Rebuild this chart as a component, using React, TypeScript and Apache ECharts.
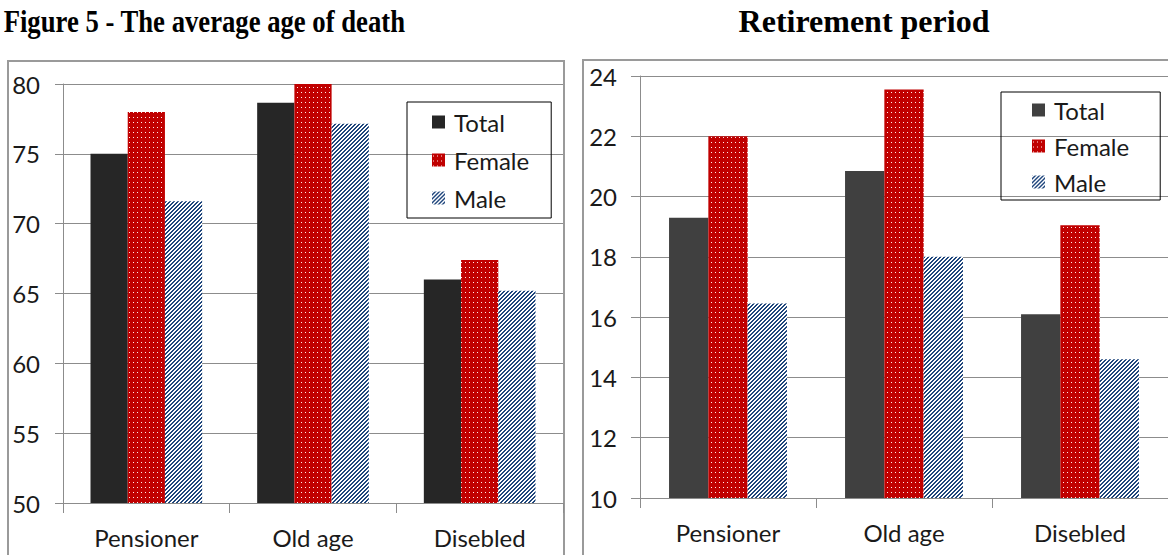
import React, { useEffect, useRef } from "react";
import * as echarts from "echarts";

const categories = ["Pensioner", "Old age", "Disebled"];
const seriesNames = ["Total", "Female", "Male"];

const deathTotal = [75.0, 78.65, 66.0];
const deathFemale = [78.0, 80.0, 67.4];
const deathMale = [71.6, 77.15, 65.2];

const retireTotal = [19.3, 20.85, 16.1];
const retireFemale = [22.0, 23.55, 19.05];
const retireMale = [16.45, 18.0, 14.6];

const leftTitle = "Figure 5 - The average age of death";
const rightTitle = "Retirement period";

const FONT = "Lato";
const GRID = "#8c8c8c";
const TITLE_FONT = "bold 32px 'Liberation Serif', 'Times New Roman', serif";

function makeFemalePattern() {
  const c = document.createElement("canvas");
  c.width = 4;
  c.height = 5;
  const g = c.getContext("2d")!;
  g.fillStyle = "#C00000";
  g.fillRect(0, 0, 4, 5);
  g.fillStyle = "rgba(255,235,235,1)";
  g.fillRect(1, 2, 1, 1);
  return { image: c.toDataURL(), repeat: "repeat", imageWidth: 4, imageHeight: 5 };
}

function makeMalePattern() {
  const c = document.createElement("canvas");
  c.width = 4;
  c.height = 4;
  const g = c.getContext("2d")!;
  g.fillStyle = "#ffffff";
  g.fillRect(0, 0, 4, 4);
  g.fillStyle = "#1F467C";
  for (let x = 0; x < 4; x++) {
    for (let y = 0; y < 4; y++) {
      const s = (x + y) % 4;
      if (s === 2 || s === 3) g.fillRect(x, y, 1, 1);
    }
  }
  return { image: c.toDataURL(), repeat: "repeat", imageWidth: 4, imageHeight: 4 };
}

function measure(text: string, font: string) {
  const c = document.createElement("canvas");
  const g = c.getContext("2d")!;
  g.font = font;
  return g.measureText(text).width;
}

function buildOption(cfg: any) {
  const female = makeFemalePattern();
  const male = makeMalePattern();
  const data = [cfg.total, cfg.female, cfg.male];
  const colors = [cfg.totalColor, female, male];
  return {
    animation: false,
    graphic: [
      {
        type: "rect",
        shape: { x: cfg.frame.x, y: cfg.frame.y, width: cfg.frame.w, height: 700 },
        style: { fill: "none", stroke: "#9a9a9a", lineWidth: 2 },
        z: 0,
      },
      {
        type: "text",
        x: cfg.title.x,
        y: 21,
        scaleX: cfg.title.scaleX,
        style: {
          text: cfg.title.text,
          font: TITLE_FONT,
          fill: "#000",
          align: cfg.title.align,
          verticalAlign: "middle",
        },
      },
    ],
    legend: {
      data: seriesNames,
      orient: "vertical",
      left: cfg.legend.left,
      top: cfg.legend.top,
      padding: cfg.legend.padding,
      itemGap: cfg.legend.gap,
      itemWidth: 13,
      itemHeight: 13,
      icon: "rect",
      borderColor: "#000",
      borderWidth: 1,
      textStyle: { fontFamily: FONT, fontSize: 24, color: "#1a1a1a", lineHeight: 26, padding: [0, 0, 0, 4] },
    },
    grid: {
      left: cfg.grid.left,
      top: cfg.grid.top,
      width: cfg.grid.width,
      height: cfg.grid.height,
      containLabel: false,
    },
    xAxis: {
      type: "category",
      data: categories,
      axisLine: { show: true, lineStyle: { color: GRID, width: 1 } },
      axisTick: { show: true, length: 10, lineStyle: { color: GRID } },
      axisLabel: { fontFamily: FONT, fontSize: 24, color: "#1a1a1a", margin: 22 },
      splitLine: { show: false },
    },
    yAxis: {
      type: "value",
      min: cfg.y.min,
      max: cfg.y.max,
      interval: cfg.y.interval,
      axisLine: { show: true, lineStyle: { color: GRID, width: 1 } },
      axisTick: { show: true, length: cfg.y.tick, lineStyle: { color: GRID } },
      axisLabel: { fontFamily: FONT, fontSize: 24, color: "#1a1a1a", margin: 23 },
      splitLine: { show: true, lineStyle: { color: GRID, width: 1 } },
    },
    series: seriesNames.map((name, i) => ({
      name,
      type: "bar",
      data: data[i],
      barGap: "0%",
      barCategoryGap: "33%",
      itemStyle: { color: colors[i] },
    })),
  };
}

export default function App() {
  const leftRef = useRef<HTMLDivElement>(null);
  const rightRef = useRef<HTMLDivElement>(null);

  useEffect(() => {
    const left = echarts.init(leftRef.current!, null, { renderer: "svg" });
    const right = echarts.init(rightRef.current!, null, { renderer: "svg" });
    const w = measure(leftTitle, TITLE_FONT) || 480;
    const leftScale = Math.min(1, 402 / w);
    left.setOption(
      buildOption({
        total: deathTotal,
        female: deathFemale,
        male: deathMale,
        totalColor: "#262626",
        frame: { x: 8, y: 61, w: 556 },
        title: { text: leftTitle, x: 405, align: "right", scaleX: leftScale },
        legend: { left: 407, top: 102, padding: [7, 22, 7, 25], gap: 12 },
        grid: { left: 63, top: 84, width: 500, height: 419 },
        y: { min: 50, max: 80, interval: 5, tick: 8 },
      })
    );
    right.setOption(
      buildOption({
        total: retireTotal,
        female: retireFemale,
        male: retireMale,
        totalColor: "#404040",
        frame: { x: 9, y: 60, w: 700 },
        title: { text: rightTitle, x: 290, align: "center", scaleX: 1 },
        legend: { left: 427, top: 92, padding: [5, 31, 5, 31], gap: 10 },
        grid: { left: 66, top: 76, width: 534, height: 422 },
        y: { min: 10, max: 24, interval: 2, tick: 9 },
      })
    );
    return () => {
      left.dispose();
      right.dispose();
    };
  }, []);

  return (
    <div style={{ position: "fixed", left: 0, top: 0, width: 1168, height: 555, background: "#fff", overflow: "hidden" }}>
      <div ref={leftRef} style={{ position: "absolute", left: 0, top: 0, width: 574, height: 555 }} />
      <div ref={rightRef} style={{ position: "absolute", left: 574, top: 0, width: 594, height: 555 }} />
    </div>
  );
}
